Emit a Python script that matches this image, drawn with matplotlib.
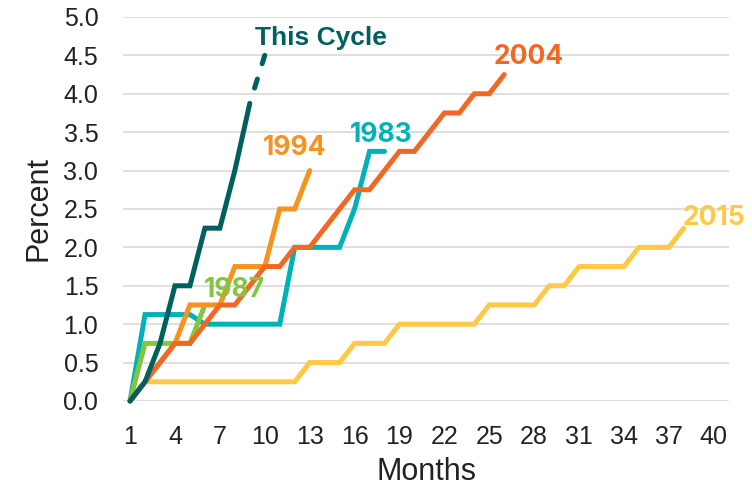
import matplotlib.pyplot as plt

plt.rcParams["font.family"] = ["Liberation Sans", "DejaVu Sans"]

# fed funds increase (percent) by month of each hiking cycle
months = list(range(1, 41))
x_ticks = list(range(1, 41, 3))
y_ticks = [0.0, 0.5, 1.0, 1.5, 2.0, 2.5, 3.0, 3.5, 4.0, 4.5, 5.0]

this_cycle = [0, 0.25, 0.75, 1.5, 1.5, 2.25, 2.25, 3.0, 3.875]
this_cycle_proj_months = [9, 10]
this_cycle_proj = [3.875, 4.5]
y1983 = [0, 1.125, 1.125, 1.125, 1.125, 1.0, 1.0, 1.0, 1.0, 1.0, 1.0, 2.0,
         2.0, 2.0, 2.0, 2.5, 3.25, 3.25]
y1987 = [0, 0.75, 0.75, 0.75, 0.75, 1.25]
y1994 = [0, 0.25, 0.5, 0.75, 1.25, 1.25, 1.25, 1.75, 1.75, 1.75, 2.5, 2.5, 3.0]
y2004 = [0, 0.25, 0.5, 0.75, 0.75, 1.0, 1.25, 1.25, 1.5, 1.75, 1.75, 2.0, 2.0,
         2.25, 2.5, 2.75, 2.75, 3.0, 3.25, 3.25, 3.5, 3.75, 3.75, 4.0, 4.0, 4.25]
y2015 = [0, 0.25, 0.25, 0.25, 0.25, 0.25, 0.25, 0.25, 0.25, 0.25, 0.25, 0.25,
         0.5, 0.5, 0.5, 0.75, 0.75, 0.75, 1.0, 1.0, 1.0, 1.0, 1.0, 1.0,
         1.25, 1.25, 1.25, 1.25, 1.5, 1.5, 1.75, 1.75, 1.75, 1.75,
         2.0, 2.0, 2.0, 2.25]

C_THIS = "#005f5f"
C_1983 = "#00b2b8"
C_1987 = "#84c441"
C_1994 = "#f7931d"
C_2004 = "#f26822"
C_2015 = "#ffc845"

LW = 3.6

fig = plt.figure(figsize=(7.52, 4.92), dpi=100)
ax = fig.add_axes([0.164, 0.185, 0.806, 0.7805])

series = [
    (y2015, C_2015),
    (y1983, C_1983),
    (y1987, C_1987),
    (y1994, C_1994),
    (y2004, C_2004),
    (this_cycle, C_THIS),
]
for vals, color in series:
    ax.plot(months[:len(vals)], vals, color=color, lw=LW,
            solid_joinstyle="miter", solid_capstyle="round", clip_on=False)

ax.plot(this_cycle_proj_months, this_cycle_proj, color=C_THIS, lw=LW,
        linestyle=(1.9, (1.9, 3.2)), dash_capstyle="round", clip_on=False)

ax.text(9.35, 4.73, "This Cycle", color=C_THIS, fontsize=19,
        fontweight="bold", ha="left", va="center")

year_labels = [
    ("1994", 9.9, 3.29, C_1994),
    ("1983", 15.7, 3.46, C_1983),
    ("2004", 25.3, 4.48, C_2004),
    ("2015", 37.9, 2.38, C_2015),
    ("1987", 5.9, 1.45, C_1987),
]
for text, x, y, color in year_labels:
    ax.text(x, y, text, color=color, fontsize=19, fontweight="bold",
            family=["Inter", "Liberation Sans"], ha="left", va="center")

ax.set_xlim(0.55, 41.05)
ax.set_ylim(0, 5)
ax.set_xticks(x_ticks)
ax.set_yticks(y_ticks)
ax.set_yticklabels([f"{v:.1f}" for v in y_ticks])
ax.tick_params(length=0, labelsize=18, colors="#222222")
ax.tick_params(axis="x", pad=17)
ax.tick_params(axis="y", pad=18)
ax.grid(axis="y", color="#d9d9d9", lw=1.2)
ax.set_axisbelow(True)
for spine in ax.spines.values():
    spine.set_visible(False)

ax.set_xlabel("Months", fontsize=22, color="#222222", labelpad=6)
ax.set_ylabel("Percent", fontsize=22, color="#222222", labelpad=7)

fig.savefig("out.png", dpi=100)
